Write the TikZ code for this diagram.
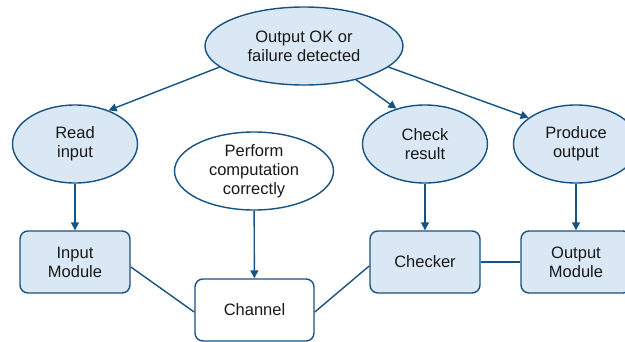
\documentclass[tikz,border=0pt]{standalone}
\usepackage{fontspec}
\setmainfont{Liberation Sans}
\usetikzlibrary{shapes.geometric,arrows.meta}
\definecolor{edgeblue}{RGB}{22,82,130}
\definecolor{fillblue}{RGB}{218,232,245}
\definecolor{txt}{RGB}{25,25,25}
\tikzset{
  base/.style={draw=edgeblue, line width=1.4pt, text=txt, align=center, inner sep=0pt,
    font=\fontsize{16.5}{19}\selectfont},
  goal/.style={base, ellipse, fill=fillblue, minimum height=78pt},
  goalw/.style={base, ellipse, fill=white, minimum height=78pt},
  modbox/.style={base, rounded corners=8pt, fill=fillblue, minimum width=110pt, minimum height=62pt},
  chbox/.style={base, rounded corners=8pt, fill=white, minimum width=119pt, minimum height=62pt},
  arr/.style={draw=edgeblue, line width=1.4pt, -{Triangle[length=8pt,width=8pt]}},
  lnk/.style={draw=edgeblue, line width=1.4pt}
}
\begin{document}
\begin{tikzpicture}[x=1pt,y=-1pt]
\useasboundingbox (0,0) rectangle (625,341);
\clip (0,0) rectangle (625,341);
\node[goal, minimum width=198pt] (top) at (304,46) {Output OK or\\failure detected};
\node[goal, minimum width=125pt] (read) at (75,144) {Read\\input};
\node[goalw, minimum width=159pt] (perf) at (254,171) {Perform\\computation\\correctly};
\node[goal, minimum width=125pt] (check) at (425,144) {Check\\result};
\node[goal, minimum width=125pt] (prod) at (576,144) {Produce\\output};
\node[modbox] (inmod) at (75,262) {Input\\Module};
\node[chbox] (chan) at (254.5,310) {Channel};
\node[modbox] (checker) at (425,262) {Checker};
\node[modbox] (outmod) at (576,262) {Output\\Module};

\draw[arr] (top.194) -- (read.45);
\draw[arr] (top.327) -- (check.129);
\draw[arr] (top.346) -- (prod.151);
\draw[arr] (read) -- (inmod);
\draw[arr] (perf) -- (chan);
\draw[arr] (check) -- (checker);
\draw[arr] (prod) -- (outmod);
\draw[lnk] (inmod.-5) -- (chan.182);
\draw[lnk] (chan.-2) -- (checker.184);
\draw[lnk] (checker.east) -- (outmod.west);
\end{tikzpicture}
\end{document}
